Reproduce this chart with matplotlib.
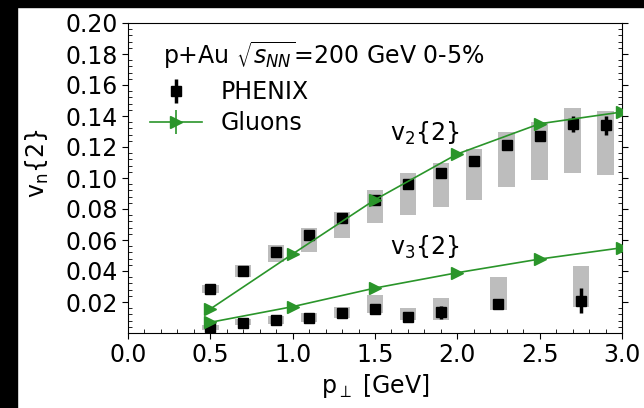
#!/usr/bin/env python3

import matplotlib
matplotlib.use('Agg')
import matplotlib.pyplot as plt
from matplotlib.patches import Rectangle
from matplotlib.ticker import MultipleLocator
import numpy as np

# PHENIX v2{2}
pt_v2 = [0.5, 0.7, 0.9, 1.1, 1.3, 1.5, 1.7, 1.9, 2.1, 2.3, 2.5, 2.7, 2.9]
v2 = [0.0285, 0.040, 0.052, 0.063, 0.074, 0.086, 0.096, 0.103, 0.111, 0.121, 0.127, 0.135, 0.134]
v2_stat = [0.001, 0.001, 0.001, 0.001, 0.001, 0.001, 0.001, 0.002, 0.002, 0.002, 0.003, 0.005, 0.006]
v2_sys_lo = [0.026, 0.036, 0.046, 0.052, 0.061, 0.071, 0.076, 0.081, 0.086, 0.094, 0.099, 0.103, 0.102]
v2_sys_hi = [0.031, 0.044, 0.057, 0.068, 0.078, 0.092, 0.103, 0.110, 0.119, 0.130, 0.136, 0.145, 0.143]

# PHENIX v3{2}
pt_v3 = [0.5, 0.7, 0.9, 1.1, 1.3, 1.5, 1.7, 1.9, 2.25, 2.75]
v3 = [0.0037, 0.0067, 0.0084, 0.0097, 0.0128, 0.0157, 0.0105, 0.0133, 0.0188, 0.0208]
v3_stat = [0.001, 0.001, 0.001, 0.001, 0.001, 0.001, 0.002, 0.004, 0.003, 0.008]
v3_sys_lo = [0.002, 0.005, 0.006, 0.007, 0.0097, 0.013, 0.0084, 0.0084, 0.015, 0.017]
v3_sys_hi = [0.005, 0.009, 0.011, 0.013, 0.0168, 0.0245, 0.0163, 0.0226, 0.036, 0.043]

# Gluons
pt_gl = [0.5, 1.0, 1.5, 2.0, 2.5, 3.0]
v2_gl = [0.0155, 0.051, 0.086, 0.1155, 0.135, 0.1426]
v3_gl = [0.0069, 0.017, 0.029, 0.0389, 0.0477, 0.055]

GREEN = '#2a952a'


def main():
    plt.rcParams['font.size'] = 17
    figure = plt.figure(figsize=(6.44, 4.08), dpi=100)
    axis = figure.add_axes([128 / 644, 1 - 333 / 408, 494 / 644, 310 / 408])

    # black strips of the screenshot
    figure.patches.append(Rectangle((0, 0), 17 / 644, 1, transform=figure.transFigure,
                                    color='black', zorder=-10))
    figure.patches.append(Rectangle((0, 1 - 7 / 408), 1, 7 / 408, transform=figure.transFigure,
                                    color='black', zorder=-10))

    # systematic boxes
    axis.bar(pt_v2, np.subtract(v2_sys_hi, v2_sys_lo), bottom=v2_sys_lo, width=0.1,
             color='#bdbdbd', zorder=1)
    axis.bar(pt_v3, np.subtract(v3_sys_hi, v3_sys_lo), bottom=v3_sys_lo, width=0.1,
             color='#bdbdbd', zorder=1)

    axis.errorbar(pt_v2, v2, yerr=v2_stat, fmt='s', color='black', ms=7,
                  elinewidth=2.5, capsize=0, label='PHENIX', zorder=3)
    axis.errorbar(pt_v3, v3, yerr=v3_stat, fmt='s', color='black', ms=7,
                  elinewidth=2.5, capsize=0, zorder=3)

    axis.errorbar(pt_gl, v2_gl, yerr=np.zeros(len(pt_gl)), fmt='->', color=GREEN, ms=9,
                  lw=1.2, label='Gluons', zorder=4)
    axis.errorbar(pt_gl, v3_gl, yerr=np.zeros(len(pt_gl)), fmt='->', color=GREEN, ms=9,
                  lw=1.2, zorder=4)

    axis.text(0.071, 0.897, r'p+Au $\sqrt{s_{NN}}$=200 GeV 0-5%', transform=axis.transAxes,
              ha='left', va='center')
    axis.text(1.59, 0.129, r'v$_2${2}', ha='left', va='center')
    axis.text(1.59, 0.0555, r'v$_3${2}', ha='left', va='center')

    axis.set_xlim(0, 3.0)
    axis.set_ylim(0, 0.2)
    axis.set_xticks([0.0, 0.5, 1.0, 1.5, 2.0, 2.5, 3.0])
    axis.set_yticks([0.02, 0.04, 0.06, 0.08, 0.10, 0.12, 0.14, 0.16, 0.18, 0.20])
    axis.xaxis.set_minor_locator(MultipleLocator(0.1))
    axis.yaxis.set_minor_locator(MultipleLocator(0.004))
    axis.tick_params(which='major', direction='out', length=4, right=True)
    axis.tick_params(which='minor', direction='in', length=3, right=True)

    axis.set_xlabel(r'p$_\perp$ [GeV]')
    axis.set_ylabel(r'v$_\mathrm{n}${2}')
    axis.xaxis.set_label_coords(0.5, -0.125)
    axis.yaxis.set_label_coords(-0.156, 0.548)

    axis.legend(loc='upper left', bbox_to_anchor=(0.044, 0.815), frameon=False,
                borderaxespad=0, borderpad=0, handlelength=2.2, handletextpad=0.8,
                labelspacing=0.3)

    figure.savefig('out.png', dpi=100)
    return 0


if __name__ == '__main__':
    main()
